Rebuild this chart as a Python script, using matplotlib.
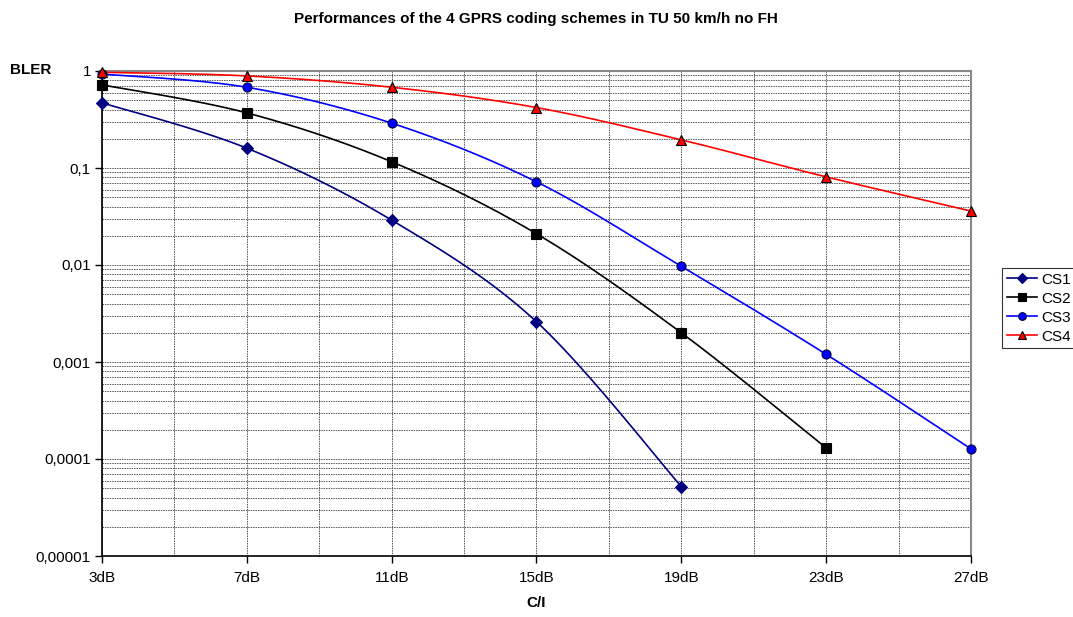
import numpy as np
import matplotlib
matplotlib.use("Agg")
import matplotlib.pyplot as plt

# --- datos ---
snr_db = [3, 7, 11, 15, 19, 23, 27]
x_labels = ["3dB", "7dB", "11dB", "15dB", "19dB", "23dB", "27dB"]
cs1 = [0.47, 0.16, 0.029, 0.0026, 5.2e-5]
cs2 = [0.72, 0.37, 0.116, 0.021, 0.002, 1.3e-4]
cs3 = [0.93, 0.68, 0.29, 0.072, 0.0097, 0.0012, 1.27e-4]
cs4 = [0.97, 0.89, 0.68, 0.42, 0.195, 0.081, 0.036]
y_ticks = [1, 0.1, 0.01, 0.001, 0.0001, 0.00001]
y_labels = ["1", "0,1", "0,01", "0,001", "0,0001", "0,00001"]

plt.rcParams['font.family'] = ['Liberation Sans', 'DejaVu Sans']


def smooth(x, y, n=30):
    """Suavizado tipo Excel (Catmull-Rom) en escala log."""
    px = np.asarray(x, float)
    py = np.log10(np.asarray(y, float))
    P = np.column_stack([px, py])
    P = np.vstack([P[0], P, P[-1]])
    out = []
    t = np.linspace(0, 1, n)[:, None]
    for i in range(1, len(P) - 2):
        p0, p1, p2, p3 = P[i - 1], P[i], P[i + 1], P[i + 2]
        c1 = p1 + (p2 - p0) / 6
        c2 = p2 - (p3 - p1) / 6
        seg = ((1 - t) ** 3) * p1 + 3 * ((1 - t) ** 2) * t * c1 + 3 * (1 - t) * t ** 2 * c2 + t ** 3 * p2
        out.append(seg)
    seg = np.vstack(out)
    return seg[:, 0], 10 ** seg[:, 1]


fig = plt.figure(figsize=(10.73, 6.17), dpi=100)
ax = fig.add_axes([102 / 1073, 1 - 556 / 617, (971 - 102) / 1073, (556 - 71) / 617])

series = [
    ("CS1", cs1, "#000080", "D", "#000080", 6),
    ("CS2", cs2, "black", "s", "black", 6.5),
    ("CS3", cs3, "#0000FF", "o", "#000040", 6.5),
    ("CS4", cs4, "#FF0000", "^", "black", 7.5),
]

for name, vals, col, mk, edge, ms in series:
    xs = snr_db[:len(vals)]
    sx, sy = smooth(xs, vals)
    ax.plot(sx, sy, color=col, lw=1.2, zorder=3)
    ax.plot(xs, vals, linestyle="none", marker=mk, markersize=ms, markerfacecolor=col,
            markeredgecolor=edge, markeredgewidth=0.8, clip_on=False, zorder=4)
    # entrada de leyenda
    ax.plot([], [], color=col, lw=1.2, marker=mk, markersize=ms * 0.85,
            markerfacecolor=col, markeredgecolor=edge, markeredgewidth=0.8, label=name)

ax.set_yscale("log")
ax.set_ylim(1e-5, 1)
ax.set_xlim(3, 27)

ax.set_yticks(y_ticks)
ax.set_yticklabels(y_labels, fontsize=11)
ax.yaxis.set_minor_locator(matplotlib.ticker.LogLocator(base=10, subs=np.arange(2, 10)))
ax.yaxis.set_minor_formatter(matplotlib.ticker.NullFormatter())
ax.tick_params(axis="y", which="minor", length=0)
ax.tick_params(axis="y", which="major", length=5, direction="out", width=1, pad=3)

ax.set_xticks(snr_db)
ax.set_xticklabels(x_labels, fontsize=11)
ax.set_xticks(np.arange(3, 28, 2), minor=True)
ax.tick_params(axis="x", which="minor", length=0)
ax.tick_params(axis="x", which="major", length=5, direction="out", width=1, pad=6)

grid_kw = dict(color="#555555", lw=0.7, linestyle=(0, (1.5, 1)))
ax.grid(True, which="both", axis="y", **grid_kw)
ax.grid(True, which="both", axis="x", **grid_kw)
ax.set_axisbelow(True)

for s in ["top", "right"]:
    ax.spines[s].set_color("#888888")
    ax.spines[s].set_linewidth(1.5)
for s in ["left", "bottom"]:
    ax.spines[s].set_color("black")
    ax.spines[s].set_linewidth(1.2)

fig.text(536 / 1073, 1 - 19 / 617, "Performances of the 4 GPRS coding schemes in TU 50 km/h no FH",
         ha="center", va="center", fontsize=11, fontweight="bold")
fig.text(10 / 1073, 1 - 70 / 617, "BLER", ha="left", va="center", fontsize=11, fontweight="bold")
fig.text(536 / 1073, 1 - 603 / 617, "C/I", ha="center", va="center", fontsize=11, fontweight="bold")

leg = ax.legend(loc="upper left", bbox_to_anchor=(1002 / 1073, 1 - 268 / 617),
                bbox_transform=fig.transFigure, frameon=True, fancybox=False,
                fontsize=11, handlelength=2.0, borderpad=0.3, labelspacing=0.33,
                handletextpad=0.3, borderaxespad=0)
leg.get_frame().set_edgecolor("black")
leg.get_frame().set_linewidth(0.8)

fig.savefig("out.png", dpi=100)
